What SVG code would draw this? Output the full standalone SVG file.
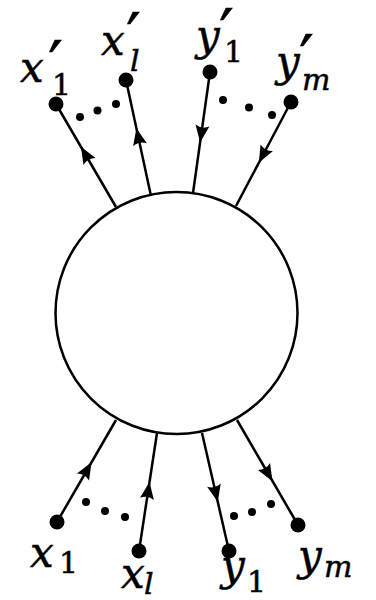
<svg xmlns="http://www.w3.org/2000/svg" width="376" height="600" viewBox="0 0 376 600">
<style>
.edge{stroke:#000;stroke-width:2.5;fill:none;marker-mid:url(#arr)}
.dot{fill:#000}
.lab{font-family:"DejaVu Serif","Liberation Serif",serif;font-style:italic;font-size:42px;fill:#000;stroke:#000;stroke-width:0.5}
.sub{font-style:normal;font-size:30px}
.subi{font-style:italic;font-size:30px}
.pr{font-style:normal;font-size:66px}
</style>
<defs>
<marker id="arr" markerUnits="userSpaceOnUse" markerWidth="30" markerHeight="30" viewBox="-15 -15 30 30" refX="0" refY="0" orient="auto" overflow="visible">
<path d="M10,0 L-7,-7 Q-3,0 -7,7 Z" fill="#000"/>
</marker>
</defs>
<rect width="376" height="600" fill="#fff"/>
<g id="center">
<circle cx="176.5" cy="313" r="121" fill="#fff" stroke="#000" stroke-width="2.5"/>
</g>
<g id="connectors">
<path class="edge" d="M116,207 L86,155.5 L56,104"/>
<path class="edge" d="M151,196 L138.5,138 L126,80"/>
<path class="edge" d="M210,72 L201.5,132.5 L193,193"/>
<path class="edge" d="M291,102 L263.5,154 L236,206"/>
<path class="edge" d="M57,522 L86.5,471 L116,420"/>
<path class="edge" d="M139,551 L148,492 L157,433"/>
<path class="edge" d="M202,433 L215.5,492 L229,551"/>
<path class="edge" d="M237,420 L267.5,472.5 L298,525"/>
</g>
<g id="dots-top-left"><circle class="dot" cx="80" cy="117" r="4"/><circle class="dot" cx="97.5" cy="110.5" r="4"/><circle class="dot" cx="116" cy="104" r="4"/></g>
<g id="dots-top-right"><circle class="dot" cx="223" cy="100" r="4"/><circle class="dot" cx="249" cy="107.5" r="4"/><circle class="dot" cx="272" cy="115" r="4"/></g>
<g id="dots-bottom-left"><circle class="dot" cx="86" cy="502" r="4"/><circle class="dot" cx="105" cy="511" r="4"/><circle class="dot" cx="125" cy="517" r="4"/></g>
<g id="dots-bottom-right"><circle class="dot" cx="234" cy="516" r="4"/><circle class="dot" cx="252" cy="512" r="4"/><circle class="dot" cx="271" cy="504" r="4"/></g>
<g id="x1p"><circle class="dot" cx="56" cy="104" r="7.5"/><text class="lab" x="20" y="82">x<tspan class="pr" x="48" y="88">′</tspan><tspan class="sub" x="52" y="95">1</tspan></text></g>
<g id="xlp"><circle class="dot" cx="126" cy="80" r="7.5"/><text class="lab" x="101" y="55">x<tspan class="pr" x="126" y="60">′</tspan><tspan class="subi" x="130" y="71">l</tspan></text></g>
<g id="y1p"><circle class="dot" cx="210" cy="72" r="7.5"/><text class="lab" x="196" y="50">y<tspan class="pr" x="219" y="56">′</tspan><tspan class="sub" x="224" y="62">1</tspan></text></g>
<g id="ymp"><circle class="dot" cx="291" cy="102" r="7.5"/><text class="lab" x="276" y="76">y<tspan class="pr" x="299" y="82">′</tspan><tspan class="subi" x="302" y="90">m</tspan></text></g>
<g id="x1"><circle class="dot" cx="57" cy="522" r="7.5"/><text class="lab" x="30" y="567">x<tspan class="sub" x="59" y="573">1</tspan></text></g>
<g id="xl"><circle class="dot" cx="139" cy="551" r="7.5"/><text class="lab" x="121" y="588">x<tspan class="subi" x="144" y="594">l</tspan></text></g>
<g id="y1"><circle class="dot" cx="229" cy="551" r="7.5"/><text class="lab" x="221" y="580">y<tspan class="sub" x="247" y="592">1</tspan></text></g>
<g id="ym"><circle class="dot" cx="298" cy="525" r="7.5"/><text class="lab" x="298" y="570">y<tspan class="subi" x="324" y="577">m</tspan></text></g>
</svg>
